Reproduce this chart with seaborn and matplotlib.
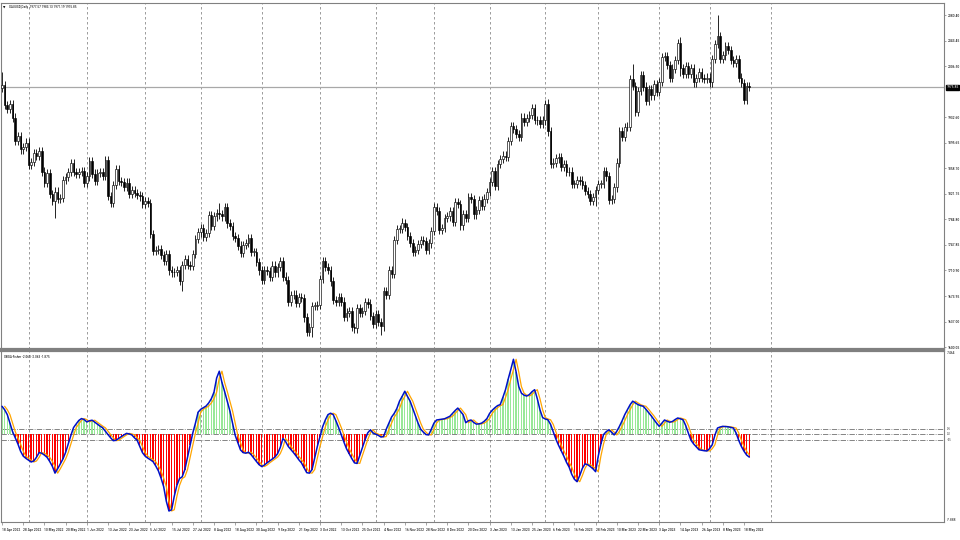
import os
import numpy as np
import pandas as pd
import matplotlib
matplotlib.use("Agg")
import matplotlib.pyplot as plt
import matplotlib.transforms as mtransforms
from matplotlib import font_manager
import seaborn as sns

# ---------------- data ----------------
HEADER = "XAUUSD,Daily  1977.57 1983.13 1971.19 1975.85"
IND_TITLE = "XBGA-Fisher -2.063 -2.063 -1.875"

HOLIDAYS = ["2022-12-26", "2023-01-02", "2023-04-07"]
FIRST_DAY = "2022-04-18"

FIRST_OPEN = 1975.0
CLOSES = [
    1979, 1950, 1944, 1951, 1932, 1898, 1905, 1886, 1889, 1896,
    1863, 1868, 1881, 1877, 1883, 1854, 1838, 1852, 1822, 1811, 1825, 1815, 1816, 1842, 1846,
    1853, 1866, 1853, 1851, 1853, 1855, 1837,
    1847, 1869, 1851, 1841, 1852, 1853, 1848, 1871, 1819, 1808, 1835, 1857, 1840, 1839, 1832,
    1838, 1822, 1827, 1823, 1820, 1818, 1807,
    1811, 1808, 1764, 1739, 1740, 1742, 1733, 1725, 1735, 1711, 1708, 1709, 1711, 1696, 1719,
    1727, 1719, 1717, 1735, 1756, 1766,
    1772, 1760, 1765, 1791, 1775, 1789, 1794, 1792, 1789, 1802, 1779, 1775, 1761, 1758, 1747,
    1736, 1748, 1751, 1758, 1738, 1738, 1723, 1711,
    1697, 1712, 1710, 1702, 1718, 1708, 1716, 1724, 1702, 1697, 1665, 1675, 1676, 1664, 1673,
    1671, 1643, 1622, 1629, 1660, 1660, 1661,
    1699, 1725, 1716, 1712, 1695, 1668, 1666, 1673, 1666, 1644, 1650, 1652, 1629, 1627, 1657,
    1649, 1652, 1665, 1663, 1645, 1634,
    1648, 1636, 1630, 1681, 1676, 1711, 1706, 1755, 1771, 1771, 1779, 1774, 1761, 1751, 1738,
    1740, 1749, 1755, 1754, 1741, 1750, 1768,
    1803, 1797, 1769, 1772, 1787, 1789, 1797, 1781, 1810, 1807, 1776, 1793, 1787, 1817, 1814,
    1792, 1798, 1813, 1804, 1815, 1824,
    1839, 1855, 1833, 1865, 1872, 1877, 1875, 1898, 1920, 1916, 1908, 1904, 1932, 1926, 1931,
    1936, 1946, 1929, 1928, 1923, 1928,
    1951, 1912, 1865, 1867, 1873, 1875, 1861, 1865, 1853, 1854, 1836, 1836, 1842, 1841, 1835,
    1826, 1822, 1811, 1817, 1827,
    1836, 1836, 1855, 1847, 1813, 1814, 1831, 1867, 1913, 1904, 1918, 1919, 1988, 1978, 1940,
    1970, 1993, 1977, 1956, 1973, 1964, 1980, 1969,
    1984, 2020, 2021, 2008, 1990, 2003, 2015, 2040, 2004, 1995, 2006, 1995, 2004, 1983, 1989,
    1998, 1989, 1988, 1990,
    1983, 2017, 2039, 2050, 2017, 2022, 2035, 2030, 2015, 2011, 2017, 1990, 1982, 1958, 1977.57,
    1975.85,
]
WICK = 6.0
HIGH_EXTREMES = {0: 1998, 82: 1808, 121: 1729, 151: 1787, 206: 1959, 238: 2009,
                 256: 2048, 270: 2081}
LOW_EXTREMES = {20: 1787, 41: 1805, 68: 1681, 117: 1615, 143: 1617, 222: 1809,
                224: 1804, 230: 1809, 239: 1934, 256: 1992, 280: 1952}
CURRENT_PRICE = 1975.85
PRICE_RANGE = (1597.3, 2097.8)
PRICE_TICKS = [2080.40, 2043.45, 2006.50, 1932.60, 1895.65, 1858.70, 1821.75,
               1784.80, 1747.85, 1710.90, 1673.95, 1637.00, 1600.05]

FISHER = [
    2.50, 2.19, 1.75, 0.99, 0.22, -0.33, -0.88, -1.53, -1.97, -2.17,
    -2.34, -2.50, -2.41, -2.08, -1.66, -1.71, -1.88, -2.08, -2.45, -2.89,
    -3.50, -3.11, -2.67, -2.23, -1.64, -0.88, -0.11, 0.59, 0.92, 1.23,
    1.40, 1.31, 1.10, 1.20, 1.25, 1.07, 0.90, 0.72, 0.57, 0.26,
    -0.04, -0.33, -0.59, -0.55, -0.39, -0.22, -0.07, 0.07, 0.02, -0.07,
    -0.33, -0.55, -1.10, -1.66, -1.97, -2.15, -2.30, -2.47, -2.85, -3.29,
    -3.94, -4.71, -6.02, -6.90, -6.79, -5.58, -4.60, -3.99, -3.83, -3.18,
    -2.08, -0.99, 0.11, 0.99, 1.97, 2.23, 2.37, 2.52, 2.80, 3.18,
    3.77, 5.04, 5.65, 4.64, 3.83, 2.96, 2.08, 0.99, -0.11, -0.77,
    -1.42, -1.66, -1.71, -1.62, -1.84, -2.15, -2.45, -2.74, -2.91, -2.78,
    -2.58, -2.41, -2.23, -2.06, -1.75, -1.20, -0.39, -0.66, -1.10, -1.38,
    -1.66, -1.97, -2.30, -2.58, -3.02, -3.46, -3.50, -3.18, -2.15, -1.10,
    -0.22, 0.66, 1.27, 1.75, 1.88, 1.75, 1.20, 0.61, -0.04, -0.70,
    -1.31, -1.75, -2.19, -2.58, -2.63, -1.93, -1.20, -0.50, 0.11, 0.39,
    0.11, 0.00, -0.11, -0.26, -0.22, 0.44, 0.99, 1.53, 1.86, 2.30,
    2.96, 3.39, 3.85, 3.39, 2.96, 2.30, 1.64, 0.99, 0.44, 0.18,
    -0.04, -0.07, 0.44, 0.99, 1.27, 1.31, 1.36, 1.38, 1.49, 1.60,
    1.86, 2.12, 2.34, 2.04, 1.75, 1.03, 1.20, 1.27, 1.05, 0.90,
    0.92, 0.99, 1.16, 1.40, 1.86, 2.15, 2.37, 2.56, 2.65, 3.29,
    3.99, 4.93, 5.80, 6.72, 5.58, 4.27, 3.68, 3.50, 3.42, 3.55,
    3.81, 3.99, 3.18, 2.19, 1.49, 1.36, 1.29, 0.88, 0.22, -0.44,
    -0.99, -1.49, -1.97, -2.52, -2.96, -3.61, -4.05, -4.27, -3.72, -3.07,
    -2.67, -2.74, -2.91, -3.11, -3.37, -1.97, -0.88, -0.04, 0.22, 0.39,
    0.18, -0.07, 0.26, 0.70, 1.20, 1.75, 2.19, 2.63, 2.96, 2.80,
    2.65, 2.56, 2.50, 2.23, 1.93, 1.64, 1.31, 0.99, 0.70, 0.99,
    1.27, 1.16, 1.07, 1.14, 1.31, 1.45, 1.38, 1.29, 0.77, 0.09,
    -0.55, -0.88, -1.14, -1.40, -1.45, -1.49, -1.51, -1.31, -0.96, -0.11,
    0.55, 0.64, 0.70, 0.68, 0.66, 0.61, 0.55, 0.11, -0.55, -1.10,
    -1.53, -1.875, -2.063,
]
LEVELS = [0.5, 0.0, -0.5]
LEVEL_LABELS = ["0.5", "0.0", "-0.5"]
FISHER_RANGE = (-7.888, 7.464)
FISHER_RANGE_LABELS = ["-7.888", "7.464"]

DATE_LABELS = [
    "18 Apr 2022", "28 Apr 2022", "10 May 2022", "20 May 2022", "1 Jun 2022", "13 Jun 2022",
    "23 Jun 2022", "5 Jul 2022", "15 Jul 2022", "27 Jul 2022", "8 Aug 2022", "18 Aug 2022",
    "30 Aug 2022", "9 Sep 2022", "21 Sep 2022", "3 Oct 2022", "13 Oct 2022", "25 Oct 2022",
    "4 Nov 2022", "16 Nov 2022", "28 Nov 2022", "8 Dec 2022", "20 Dec 2022", "3 Jan 2023",
    "13 Jan 2023", "25 Jan 2023", "6 Feb 2023", "16 Feb 2023", "28 Feb 2023", "10 Mar 2023",
    "22 Mar 2023", "3 Apr 2023", "14 Apr 2023", "26 Apr 2023", "8 May 2023", "18 May 2023",
]
LABEL_EVERY = 8

# ---------------- style ----------------
sns.set_theme(style="white")
plt.rcParams["font.family"] = ["DejaVu Sans"]


def pick_narrow_font():
    for nm in ["Liberation Sans Narrow", "Arial Narrow", "Roboto Condensed",
               "Noto Sans Condensed", "Open Sans Condensed", "DejaVu Sans Condensed"]:
        try:
            f = font_manager.findfont(nm, fallback_to_default=False)
            return font_manager.FontProperties(fname=f)
        except Exception:
            pass
    bad = ("bold", "italic", "light", "thin", "black", "mono", "serif", "medium",
           "semibold", "extrabold", "oblique", "display", "heavy")
    prefs = ["liberation", "notosans", "roboto", "opensans", "dejavu", "lato", "inter"]
    cands = []
    for f in font_manager.fontManager.ttflist:
        base = os.path.basename(f.fname).lower()
        if ("condensed" in base or "narrow" in base) and not any(b in base.replace("condensed", "").replace("narrow", "") for b in bad):
            if "semicondensed" in base or "semi" in base:
                continue
            rank = next((i for i, p in enumerate(prefs) if p in base.replace("-", "").replace("_", "")), 99)
            cands.append((rank, base, f.fname))
    if cands:
        cands.sort()
        return font_manager.FontProperties(fname=cands[0][2])
    return font_manager.FontProperties(family="DejaVu Sans")


FP = pick_narrow_font()

W, H = 960, 540
fig = plt.figure(figsize=(9.6, 5.4), dpi=100)
fig.patch.set_facecolor("white")
renderer = fig.canvas.get_renderer()


def size_for(text, target_px, fp=FP):
    t = fig.text(0, 0, text, fontproperties=fp, fontsize=10)
    w = t.get_window_extent(renderer=renderer).width
    t.remove()
    return 10.0 * target_px / max(w, 1e-6)


FS_DATE = size_for("18 Apr 2022", 18.5)
FS_PRICE = min(size_for("2080.40", 12.5), FS_DATE * 1.05)
FS_HEAD = size_for(HEADER, 68)
FS_IND = size_for(IND_TITLE, 45)


def fpz(size):
    p = FP.copy()
    p.set_size(size)
    return p


GRID_C = "#8c8c8c"
FRAME_C = "#808080"

n = len(CLOSES)
x = np.arange(n)
closes = np.array(CLOSES, dtype=float)
opens = np.concatenate([[FIRST_OPEN], closes[:-1]])
highs = np.maximum(opens, closes) + WICK
lows = np.minimum(opens, closes) - WICK
for k, v in HIGH_EXTREMES.items():
    highs[k] = max(highs[k], v)
for k, v in LOW_EXTREMES.items():
    lows[k] = min(lows[k], v)

all_days = pd.bdate_range(FIRST_DAY, "2023-06-30")
all_days = all_days[~all_days.isin(pd.to_datetime(HOLIDAYS))]
month_starts = [i for i in range(1, len(all_days))
                if all_days[i].month != all_days[i - 1].month and i <= n + 8]

XL = ((1 - 2) / 2.65, (944 - 2) / 2.65)
ax1 = fig.add_axes([1 / W, 1 - 349 / H, 943 / W, 346 / H])
ax2 = fig.add_axes([1 / W, 1 - 522 / H, 943 / W, 171 / H])

for ax in (ax1, ax2):
    ax.set_facecolor("white")
    ax.set_xlim(*XL)
    for s in ax.spines.values():
        s.set_color(FRAME_C)
        s.set_linewidth(0.8)
    for m in month_starts:
        ax.axvline(m, color=GRID_C, lw=0.6, ls=(0, (3, 3)), zorder=0)
ax1.spines["bottom"].set_linewidth(1.6)
ax2.spines["top"].set_linewidth(1.6)

# ---------------- candles ----------------
ax1.vlines(x, lows, highs, color="black", lw=0.6, zorder=2)
body = closes - opens
body_h = np.where(np.abs(body) < 0.8, 0.8, body)
bull = closes >= opens
ax1.bar(x[bull], body_h[bull], bottom=opens[bull], width=0.62, facecolor="white",
        edgecolor="black", linewidth=0.45, zorder=3)
ax1.bar(x[~bull], body_h[~bull], bottom=opens[~bull], width=0.62, facecolor="black",
        edgecolor="black", linewidth=0.45, zorder=3)
ax1.axhline(CURRENT_PRICE, color="#a8a8a8", lw=0.9, zorder=1)
ax1.set_ylim(*PRICE_RANGE)
ax1.yaxis.tick_right()
ax1.set_yticks(PRICE_TICKS)
ax1.set_yticklabels([f"{t:.2f}" for t in PRICE_TICKS], fontproperties=fpz(FS_PRICE))
ax1.tick_params(axis="y", length=1.5, width=0.5, color=FRAME_C, pad=1.0, labelcolor="black")
ax1.set_xticks([])
ax1.set_xlabel("")
ax1.set_ylabel("")
trans1 = mtransforms.blended_transform_factory(ax1.transAxes, ax1.transData)
ax1.text(1.0028, CURRENT_PRICE, f"{CURRENT_PRICE:.2f}", transform=trans1, ha="left",
         va="center", color="white", fontproperties=fpz(FS_PRICE),
         bbox=dict(boxstyle="square,pad=0.12", fc="black", ec="black"), clip_on=False)
ax1.text(0.0025, 0.991, "\u25bc", transform=ax1.transAxes, ha="left", va="top",
         fontsize=FS_HEAD * 0.9, color="black", family="DejaVu Sans")
ax1.text(0.0085, 0.993, HEADER, transform=ax1.transAxes, ha="left", va="top",
         color="black", fontproperties=fpz(FS_HEAD))

# ---------------- Fisher pane ----------------
fisher = np.array(FISHER, dtype=float)
df = pd.DataFrame({"bar": x, "fisher": fisher,
                   "signal": np.concatenate([[np.nan], fisher[:-1]])})
hist_colors = np.where(fisher >= 0, "#98e898", "#ff0000")
ax2.bar(df["bar"], df["fisher"], width=0.5, color=hist_colors, linewidth=0, zorder=2)
for lv in LEVELS:
    ax2.axhline(lv, color="#707070", lw=0.6, ls="-.", zorder=1)
sns.lineplot(data=df, x="bar", y="signal", ax=ax2, color="#ffa500", lw=0.9, zorder=3)
sns.lineplot(data=df, x="bar", y="fisher", ax=ax2, color="#0010c8", lw=1.1, zorder=4)
ax2.set_ylim(*FISHER_RANGE)
ax2.set_xlim(*XL)
ax2.set_xlabel("")
ax2.set_ylabel("")
ax2.set_yticks([])
trans2 = mtransforms.blended_transform_factory(ax2.transAxes, ax2.transData)
for lv, lab in zip(LEVELS, LEVEL_LABELS):
    ax2.text(1.003, lv, lab, transform=trans2, ha="left", va="center", color="#404040",
             fontproperties=fpz(FS_PRICE * 0.8), clip_on=False)
ax2.text(1.003, FISHER_RANGE[1], FISHER_RANGE_LABELS[1], transform=trans2, ha="left",
         va="top", fontproperties=fpz(FS_PRICE), clip_on=False)
ax2.text(1.003, FISHER_RANGE[0], FISHER_RANGE_LABELS[0], transform=trans2, ha="left",
         va="bottom", fontproperties=fpz(FS_PRICE), clip_on=False)
ax2.text(0.003, 0.975, IND_TITLE, transform=ax2.transAxes, ha="left", va="top",
         color="black", fontproperties=fpz(FS_IND))

tick_pos = [i * LABEL_EVERY for i in range(len(DATE_LABELS))]
ax2.set_xticks(tick_pos)
ax2.set_xticklabels(DATE_LABELS, fontproperties=fpz(FS_DATE))
for lab in ax2.get_xticklabels():
    lab.set_horizontalalignment("left")
ax2.tick_params(axis="x", length=2.5, width=0.5, color=FRAME_C, pad=1.5, bottom=True,
                labelcolor="black")
if ax2.get_legend() is not None:
    ax2.get_legend().remove()

fig.savefig("out.png", dpi=100, facecolor="white")
